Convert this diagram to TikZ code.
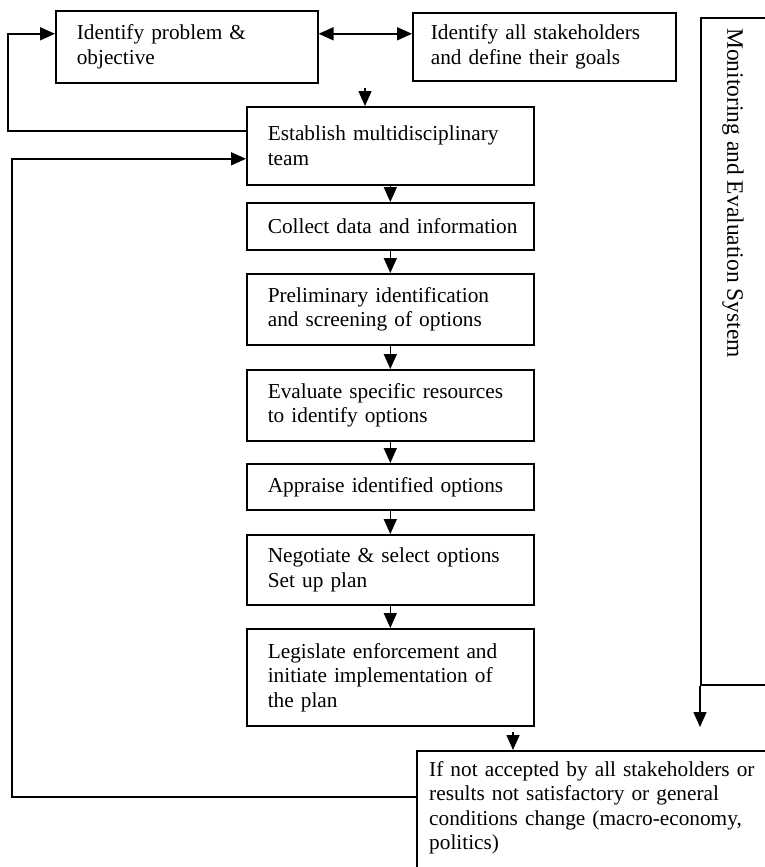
\documentclass[tikz,border=0pt]{standalone}
\usepackage{fontspec}
\setmainfont{Liberation Serif}
\usetikzlibrary{arrows.meta}
\hyphenpenalty=10000
\exhyphenpenalty=10000
\hfuzz=20pt
\begin{document}
\begin{tikzpicture}[x=1pt,y=-1pt,
  every node/.style={font=\fontsize{21.3}{24.5}\selectfont},
  stepbox/.style={draw, line width=1.6pt, anchor=north west, align=left, inner ysep=0pt},
  mainstep/.style={stepbox, inner xsep=21pt, text width=245pt},
  frame/.style={draw, line width=1.6pt, anchor=north west, inner sep=0pt},
  flow/.style={line width=1.6pt, -{Triangle[width=13pt,length=15pt]}},
  flowboth/.style={line width=1.6pt, {Triangle[width=13pt,length=15pt]}-{Triangle[width=13pt,length=15pt]}},
]
\useasboundingbox (0,0) rectangle (765,867);
\clip (0,0) rectangle (765,867);
\fill[white] (0,0) rectangle (765,867);

% top row
\node[stepbox, inner xsep=21pt, text width=220pt, minimum height=72pt] (prob) at (55,10)
  {Identify problem \&\\objective};
\node[stepbox, inner xsep=18pt, text width=227pt, minimum height=68pt] (stake) at (412,12)
  {Identify all stakeholders\\and define their goals};

% main sequence
\node[mainstep, minimum height=78pt] (team) at (246,106) {Establish multidisciplinary\\team};
\node[mainstep, minimum height=47pt] (data) at (246,202) {\mbox{Collect data and information}};
\node[mainstep, minimum height=71pt] (screen) at (246,273) {Preliminary identification\\and screening of options};
\node[mainstep, minimum height=71pt] (evaluate) at (246,369) {Evaluate specific resources\\to identify options};
\node[mainstep, minimum height=46pt] (appraise) at (246,463) {Appraise identified options};
\node[mainstep, minimum height=70pt] (select) at (246,534) {Negotiate \& select options\\Set up plan};
\node[mainstep, minimum height=97pt] (legislate) at (246,628) {Legislate enforcement and\\initiate implementation of\\the plan};

% monitoring frame on the right
\node[frame, minimum width=120pt, minimum height=667pt] (monitor) at (700,17) {};
\node[rotate=-90, anchor=west, inner sep=0pt, font=\fontsize{23.5}{27}\selectfont] (montext) at (733,28)
  {Monitoring and Evaluation System};

% review box at the bottom
\node[frame, minimum width=400pt, minimum height=160pt] (review) at (416,750) {};
\node[anchor=north west, inner sep=0pt, text width=345pt, align=left] (reviewtext)
  at ([xshift=13pt,yshift=-11pt]review.north west)
  {If not accepted by all stakeholders or\\results not satisfactory or general\\conditions change (macro-economy,\\politics)};

% connectors
\draw[flowboth] ([yshift=13pt]prob.east) -- ([yshift=13pt]prob.east -| stake.west);

\coordinate (teamin) at (365,88);
\draw[flow] (teamin) -- (teamin |- team.north);

\draw[flow] (team.south) -- (data.north);
\draw[flow] (data.south) -- (screen.north);
\draw[flow] (screen.south) -- (evaluate.north);
\draw[flow] (evaluate.south) -- (appraise.north);
\draw[flow] (appraise.south) -- (select.north);
\draw[flow] (select.south) -- (legislate.north);

\coordinate (reviewin) at (513,732);
\draw[flow] (reviewin) -- (reviewin |- review.north);

\coordinate (monend) at (700,727);
\draw[flow] (monitor.south west) -- (monend);

% feedback loops on the left
\draw[flow] ([yshift=15pt]team.west) -| ([xshift=-47pt,yshift=13pt]prob.west) -- ([yshift=13pt]prob.west);
\draw[flow] ([yshift=-47pt]review.north west) -| ([xshift=-234pt,yshift=-13pt]team.west) -- ([yshift=-13pt]team.west);
\end{tikzpicture}
\end{document}
